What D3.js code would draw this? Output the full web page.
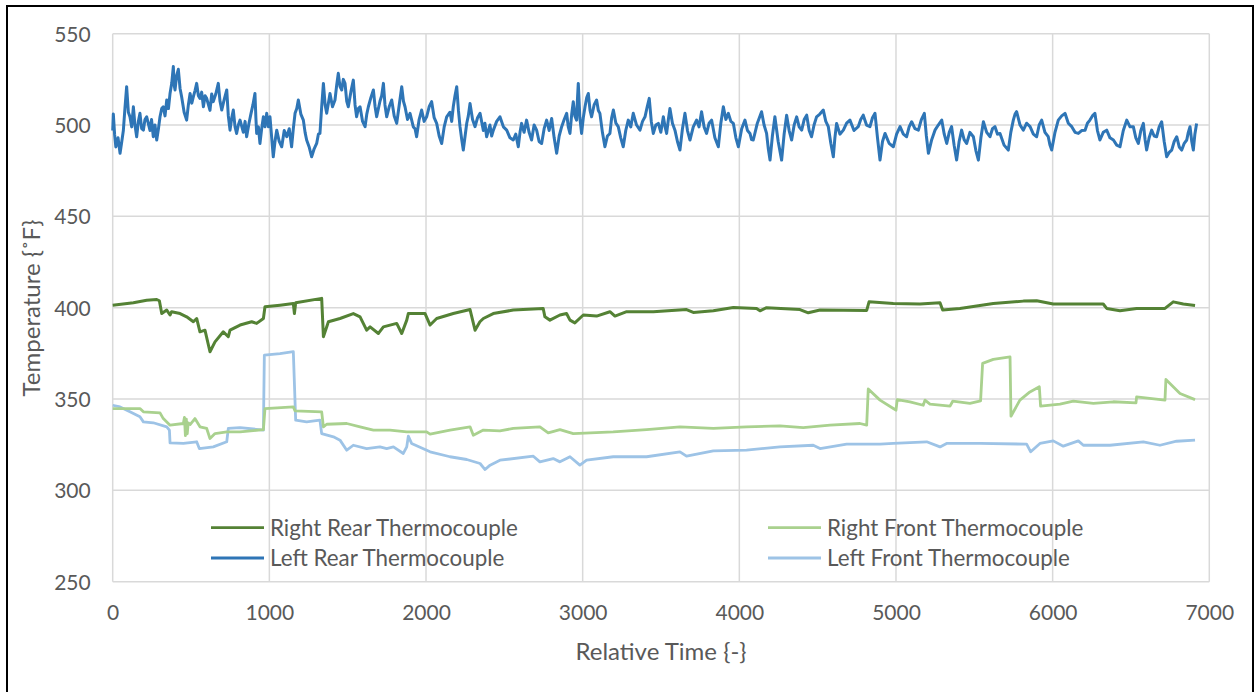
<!DOCTYPE html>
<html>
<head>
<meta charset="utf-8">
<script src="https://cdn.jsdelivr.net/npm/d3@7"></script>
<style>
  html, body { margin: 0; padding: 0; background: #fff; }
  svg { display: block; }
  text { font-family: Lato, "Open Sans", sans-serif; fill: #595959; }
</style>
</head>
<body>
<svg id="chart" width="1255" height="692"></svg>
<script>
// ---------------- DATA ----------------
const xTicks = [0, 1000, 2000, 3000, 4000, 5000, 6000, 7000];
const yTicks = [250, 300, 350, 400, 450, 500, 550];
const seriesNames = ["Right Rear Thermocouple", "Left Rear Thermocouple", "Right Front Thermocouple", "Left Front Thermocouple"];
const xTitle = "Relative Time {-}";
const yTitle = "Temperature {˚F}";

// Left Rear Thermocouple: [time, temperature]
const leftRear = [
  [0,497],[4,506],[12,495],[20,488],[34,493],[47,484.5],[58,491],[68,497],[78,509],[89,521],[100,507],[110,504.5],[121,499],[132,510],[142,500],[153,493.6],[164,502],[174,506.4],[185,498],[196,497.2],[206,503],[217,504.5],[238,497],[248,503],[259,493.6],[270,500],[281,491.8],[292,498],[302,504.5],[313,509],[323,510],[334,505],[345,513.7],[356,509],[366,517.3],[377,523],[387,532],[392,522],[398,519.2],[408,527],[419,530.5],[430,520],[440,515.5],[456,507],[472,502.7],[483,511],[494,517.3],[505,512],[515,515.5],[526,519],[536,522.8],[547,516],[557,514.6],[568,518],[579,510],[590,516],[600,514.6],[621,508],[632,517],[642,512.8],[658,517],[674,522.8],[685,513],[696,508.2],[712,514],[728,519.2],[738,505],[749,497.2],[760,504],[770,508.2],[781,499],[791,495.4],[802,500],[813,502.7],[834,496],[845,502],[855,493.6],[870,501],[882,506],[895,511],[908,517.3],[914,504],[919,495.4],[930,499],[940,489.9],[951,498],[962,504.5],[972,499],[983,506.4],[994,499],[1004,504.5],[1015,493],[1025,482.6],[1036,491],[1047,497.2],[1063,491],[1079,488.1],[1095,497],[1111,493.6],[1127,498],[1142,488.1],[1153,498],[1164,506.4],[1175,509],[1185,513.7],[1201,506],[1217,502.7],[1228,496],[1238,491.8],[1254,488],[1270,482.6],[1286,487],[1302,489.9],[1313,495],[1323,495.4],[1334,510],[1345,522.8],[1356,511],[1366,506.4],[1377,512],[1387,517.3],[1403,510],[1419,513.7],[1430,522],[1440,528.3],[1451,521],[1462,519.2],[1472,525],[1483,522.8],[1494,513],[1504,510],[1520,518],[1536,524.6],[1547,511],[1557,504.5],[1568,509],[1579,510],[1595,502],[1611,499.1],[1622,506],[1632,510],[1648,515],[1664,519.2],[1675,510],[1685,504.5],[1706,513],[1717,516],[1728,522.8],[1738,511],[1749,504.5],[1765,510],[1781,513.7],[1797,505],[1813,500.9],[1829,511],[1845,521],[1856,513],[1866,510],[1882,503],[1898,506.4],[1919,499],[1930,498],[1940,493.6],[1956,503],[1972,508.2],[1988,502],[2004,504.5],[2020,510],[2036,512.8],[2052,504],[2068,500.9],[2084,494],[2100,489.9],[2116,499],[2132,504.5],[2153,507],[2164,502],[2174,510],[2185,516],[2196,521],[2207,508],[2217,499.1],[2228,492],[2238,486.3],[2260,501],[2270,505],[2281,511.8],[2297,503],[2313,499.1],[2329,504],[2345,506.4],[2366,497],[2376,501],[2387,493.6],[2408,500],[2419,494],[2430,497.2],[2451,502],[2472,504.5],[2494,499],[2515,497.2],[2536,493],[2557,491.8],[2573,495],[2589,488.1],[2600,496],[2610,500.9],[2626,496],[2642,502.7],[2658,496],[2674,491.8],[2690,500],[2706,497.2],[2722,491],[2738,489.9],[2754,498],[2770,502.7],[2786,497],[2802,503.6],[2818,493],[2834,484.5],[2850,494],[2866,499.1],[2882,503],[2898,506.4],[2908,499],[2919,495.4],[2930,506],[2940,512.8],[2950,505],[2961,502.7],[2966,513],[2972,522.8],[2982,504],[2993,495.4],[3004,504],[3015,510],[3026,515],[3036,517.3],[3047,508],[3057,504.5],[3073,511],[3089,513.7],[3100,508],[3110,506.4],[3126,496],[3142,488.1],[3158,494],[3174,495.4],[3185,504],[3196,508.2],[3212,501],[3227,499.1],[3243,493],[3259,488.1],[3275,497],[3291,502.7],[3307,499],[3323,506.4],[3344,500],[3366,497.2],[3382,502],[3398,504.5],[3412,510],[3425,514.6],[3438,502],[3451,495.4],[3467,500],[3483,500.9],[3499,496],[3515,504.5],[3526,499],[3536,495.4],[3547,503],[3557,509.1],[3573,501],[3589,497.2],[3605,491],[3621,486.3],[3637,498],[3653,506.4],[3669,497],[3685,491.8],[3706,499],[3727,502.7],[3743,499],[3759,507.3],[3775,499],[3791,495.4],[3807,501],[3823,502.7],[3844,493],[3866,488.1],[3882,501],[3898,510],[3914,503],[3930,506.4],[3946,502],[3962,500.9],[3978,493],[3994,488.1],[4015,498],[4036,502.7],[4052,497],[4068,495.4],[4078,492],[4089,491.8],[4115,501],[4142,507.3],[4158,500],[4174,495.4],[4185,487],[4196,480.8],[4211,494],[4227,504.5],[4248,491],[4270,480.8],[4286,495],[4302,505.4],[4318,497],[4334,491.8],[4350,500],[4366,504.5],[4382,499],[4398,497.2],[4414,503],[4430,505.4],[4446,497],[4461,493.6],[4477,500],[4493,504.5],[4514,506],[4536,508.2],[4552,502],[4568,499.1],[4584,490],[4600,482.6],[4610,493],[4621,500.9],[4642,495],[4664,497.2],[4685,501],[4706,502.7],[4732,497],[4759,499.1],[4775,503],[4791,505.4],[4812,500],[4834,499.1],[4850,504],[4866,506.4],[4882,493],[4898,480.8],[4914,491],[4930,495.4],[4956,490],[4983,488.1],[5004,495],[5026,499.1],[5047,495],[5068,493.6],[5084,499],[5100,501.8],[5121,498],[5143,497.2],[5162,503],[5181,506.4],[5194,494],[5207,484.5],[5228,492],[5249,497.2],[5270,500],[5292,502.7],[5308,495],[5324,489.9],[5340,496],[5355,499.1],[5371,489],[5387,480.8],[5403,491],[5419,497.2],[5435,492],[5451,489.9],[5472,496],[5494,493.6],[5510,486],[5526,480.8],[5542,493],[5558,501.8],[5579,496],[5600,493.6],[5616,498],[5632,499.1],[5648,495],[5664,495.4],[5690,489],[5717,486.3],[5733,496],[5749,502.7],[5760,506],[5770,507.3],[5792,500],[5813,497.2],[5834,501],[5856,499.1],[5877,495],[5898,493.6],[5914,500],[5930,502.7],[5951,496],[5972,493.6],[5983,489],[5994,486.3],[6015,496],[6036,502.7],[6058,505],[6079,506.4],[6100,501],[6122,499.1],[6143,496],[6164,495.4],[6185,497],[6207,497.2],[6222,501],[6238,502.7],[6254,505],[6270,506.4],[6286,497],[6302,491.8],[6323,496],[6345,497.2],[6366,493],[6388,491.8],[6409,489],[6430,488.1],[6451,497],[6473,502.7],[6494,499],[6515,499.1],[6531,493],[6547,489.9],[6563,497],[6579,500.9],[6590,492],[6600,486.3],[6616,493],[6632,497.2],[6648,494],[6664,493.6],[6680,499],[6696,501.8],[6712,491],[6728,482.6],[6744,485],[6760,486.3],[6776,491],[6792,493.6],[6808,488],[6824,486.3],[6840,490],[6856,491.8],[6866,496],[6877,499.1],[6888,491],[6898,486.3],[6908,495],[6919,500.9]
];

// Right Rear Thermocouple
const rightRear = [
  [0,401.4],[132,402.7],[217,404.1],[281,404.5],[298,403.8],[313,396.8],[345,398.7],[366,396],[376,397.8],[430,396.8],
  [472,395],[515,392.3],[536,394.1],[557,386.8],[589,387.7],[621,375.9],[653,381.3],[706,386.8],[738,384.1],[749,387.7],
  [813,390.5],[887,392.3],[919,391.4],[962,394.1],[972,400.5],[1068,401.4],[1153,402.3],[1160,396.8],[1168,402.7],[1334,405.1],
  [1345,384.1],[1377,392.3],[1451,394.1],[1536,396.8],[1579,395],[1621,387.7],[1643,389.5],[1696,385.9],[1728,389.5],[1813,391.4],
  [1845,385.9],[1877,393.2],[1887,396.8],[1994,396.8],[2026,390.5],[2068,394.1],[2174,396.8],[2281,399],[2313,387.7],[2344,392.3],
  [2366,394.1],[2429,396.8],[2557,398.7],[2748,399.6],[2759,395],[2791,393.2],[2855,396],[2897,396.8],[2919,393.2],[2950,391.7],
  [3004,396],[3089,395.4],[3174,397.8],[3206,395.4],[3281,397.8],[3451,397.8],[3663,399],[3706,397.4],[3834,398.3],[3962,400.1],
  [4110,399.6],[4132,398.3],[4174,400],[4387,399],[4440,397.2],[4515,398.7],[4813,398.5],[4828,403.2],[4983,402.3],[5153,402],
  [5281,402.7],[5298,398.7],[5408,399.6],[5621,402.3],[5813,403.6],[5898,403.8],[6004,402],[6153,402],[6323,402],[6345,399.6],
  [6430,398.3],[6536,399.6],[6621,399.6],[6717,399.6],[6770,403.2],[6834,402],[6909,401.2]
];

// Right Front Thermocouple
const rightFront = [
  [0,344.8],[174,344.8],[196,343],[302,342.4],[323,339.3],[366,335.7],[451,336.6],[458,340],[464,330],[470,339],
  [476,331],[482,337],[494,336],[525,339.3],[557,334.8],[600,333.9],[621,328.4],[653,331.1],[728,332],[813,332],
  [962,333.3],[972,344.8],[1153,345.7],[1164,343.5],[1334,343],[1345,334.8],[1366,336.2],[1494,336.6],[1579,334.8],[1664,333],
  [1770,333],[1877,332],[2004,332],[2026,330.8],[2153,333],[2281,334.8],[2302,330.2],[2366,333],[2472,332.6],[2557,333.9],
  [2727,334.8],[2780,331.5],[2855,333.3],[2940,331.1],[3195,332],[3408,333.3],[3621,334.8],[3834,333.9],[4046,334.8],[4259,335.3],
  [4408,334.4],[4579,335.7],[4770,336.6],[4813,335.7],[4823,355.5],[4898,349.4],[4983,344.8],[5000,343.9],[5008,349.7],[5089,348.5],
  [5174,346.6],[5185,349.4],[5217,347.2],[5345,346.1],[5362,348.8],[5472,347.6],[5540,349],[5553,369.5],[5621,371.7],[5728,373.1],
  [5734,340.6],[5791,349.4],[5855,353.9],[5915,356.7],[5923,346.1],[6047,347.2],[6132,348.8],[6260,347.6],[6387,348.5],[6532,347.9],
  [6536,351.2],[6717,349.4],[6723,360.7],[6813,353],[6909,349.7]
];

// Left Front Thermocouple
const leftFront = [
  [0,346.6],[47,345.7],[110,343],[174,340.3],[196,337.5],[259,337],[345,334.8],[362,333],[366,326],[451,325.7],
  [536,326.6],[553,322.9],[642,323.8],[728,326.6],[738,333.9],[813,334.4],[962,333],[968,374],[1068,374.9],[1153,375.9],
  [1168,338.4],[1238,337.5],[1323,338.4],[1334,331.1],[1409,329.3],[1451,327.5],[1494,322],[1536,324.7],[1621,322.9],[1706,323.8],
  [1749,322.9],[1792,323.8],[1855,320.2],[1877,323.8],[1887,329.7],[1908,325.7],[2026,321.1],[2153,318.4],[2260,316.9],[2345,314.7],
  [2377,311.4],[2409,313.8],[2472,316.5],[2685,318.7],[2727,315.6],[2812,317.4],[2855,315.6],[2919,318.4],[2982,313.8],[3025,316.5],
  [3195,318.4],[3408,318.4],[3621,321.1],[3663,318.7],[3834,321.6],[4046,322],[4259,323.8],[4472,324.7],[4515,322.9],[4685,325.3],
  [4898,325.3],[4983,325.7],[5196,326.6],[5281,323.8],[5323,325.7],[5536,325.7],[5834,325.3],[5860,321.1],[5919,325.7],[6004,327.1],
  [6068,324.2],[6164,327.1],[6196,324.7],[6366,324.7],[6579,326.6],[6685,324.7],[6791,326.9],[6909,327.5]
];

const colors = ["#548235", "#2E75B6", "#A9D18E", "#9DC3E6"];

// ---------------- CHART ----------------
const svg = d3.select("#chart");
const plot = { left: 112.7, right: 1209.3, top: 33.7, bottom: 581.7 };

const x = d3.scaleLinear().domain([0, 7000]).range([plot.left, plot.right]);
const y = d3.scaleLinear().domain([250, 550]).range([plot.bottom, plot.top]);

// outer border
svg.append("rect")
  .attr("x", 7).attr("y", 6).attr("width", 1246).attr("height", 700)
  .attr("fill", "none").attr("stroke", "#000").attr("stroke-width", 2);

// gridlines
const grid = svg.append("g");
grid.selectAll("line.v").data(xTicks).join("line")
  .attr("x1", d => x(d)).attr("x2", d => x(d))
  .attr("y1", plot.top).attr("y2", plot.bottom)
  .attr("stroke", "#D9D9D9").attr("stroke-width", 1.5);
grid.selectAll("line.h").data(yTicks).join("line")
  .attr("x1", plot.left).attr("x2", plot.right)
  .attr("y1", d => y(d)).attr("y2", d => y(d))
  .attr("stroke", "#D9D9D9").attr("stroke-width", 1.5);

// axes (labels only)
const xAxis = d3.axisBottom(x).tickValues(xTicks).tickSize(0).tickPadding(0).tickFormat(d3.format("d"));
const gx = svg.append("g").attr("transform", `translate(0,${plot.bottom + 31})`).call(xAxis);
gx.select(".domain").remove();
gx.selectAll("text").attr("font-size", 21).attr("fill", "#595959").attr("font-family", "Lato, sans-serif").attr("dy", "0.35em");

const yAxis = d3.axisLeft(y).tickValues(yTicks).tickSize(0).tickPadding(0).tickFormat(d3.format("d"));
const gy = svg.append("g").attr("transform", `translate(${plot.left - 22},0)`).call(yAxis);
gy.select(".domain").remove();
gy.selectAll("text").attr("font-size", 21).attr("fill", "#595959").attr("font-family", "Lato, sans-serif").attr("dy", "0.35em");

// axis titles
svg.append("text").attr("x", 661).attr("y", 652).attr("dy", "0.35em")
  .attr("text-anchor", "middle").attr("font-size", 24).text(xTitle);
svg.append("text").attr("transform", "translate(32,308) rotate(-90)").attr("dy", "0.35em")
  .attr("text-anchor", "middle").attr("font-size", 24).text(yTitle);

// lines
const line = d3.line().x(d => x(d[0])).y(d => y(d[1]));
const series = [
  { data: leftFront, color: colors[3], w: 2.8 },
  { data: rightFront, color: colors[2], w: 2.8 },
  { data: rightRear, color: colors[0], w: 3 },
  { data: leftRear, color: colors[1], w: 3 }
];
svg.append("g").selectAll("path").data(series).join("path")
  .attr("d", d => line(d.data))
  .attr("fill", "none")
  .attr("stroke", d => d.color)
  .attr("stroke-width", d => d.w)
  .attr("stroke-linejoin", "round");

// legend
const legendItems = [
  { name: seriesNames[0], color: colors[0], lx: 211, ly: 527.7 },
  { name: seriesNames[1], color: colors[1], lx: 211, ly: 558 },
  { name: seriesNames[2], color: colors[2], lx: 768, ly: 527.7 },
  { name: seriesNames[3], color: colors[3], lx: 768, ly: 558 }
];
const lg = svg.append("g").selectAll("g").data(legendItems).join("g")
  .attr("transform", d => `translate(${d.lx},${d.ly})`);
lg.append("line").attr("x1", 0).attr("x2", 53).attr("y1", 0).attr("y2", 0)
  .attr("stroke", d => d.color).attr("stroke-width", 2.8);
lg.append("text").attr("x", 59).attr("dy", "0.35em").attr("font-size", 22.4).text(d => d.name);
</script>
</body>
</html>
